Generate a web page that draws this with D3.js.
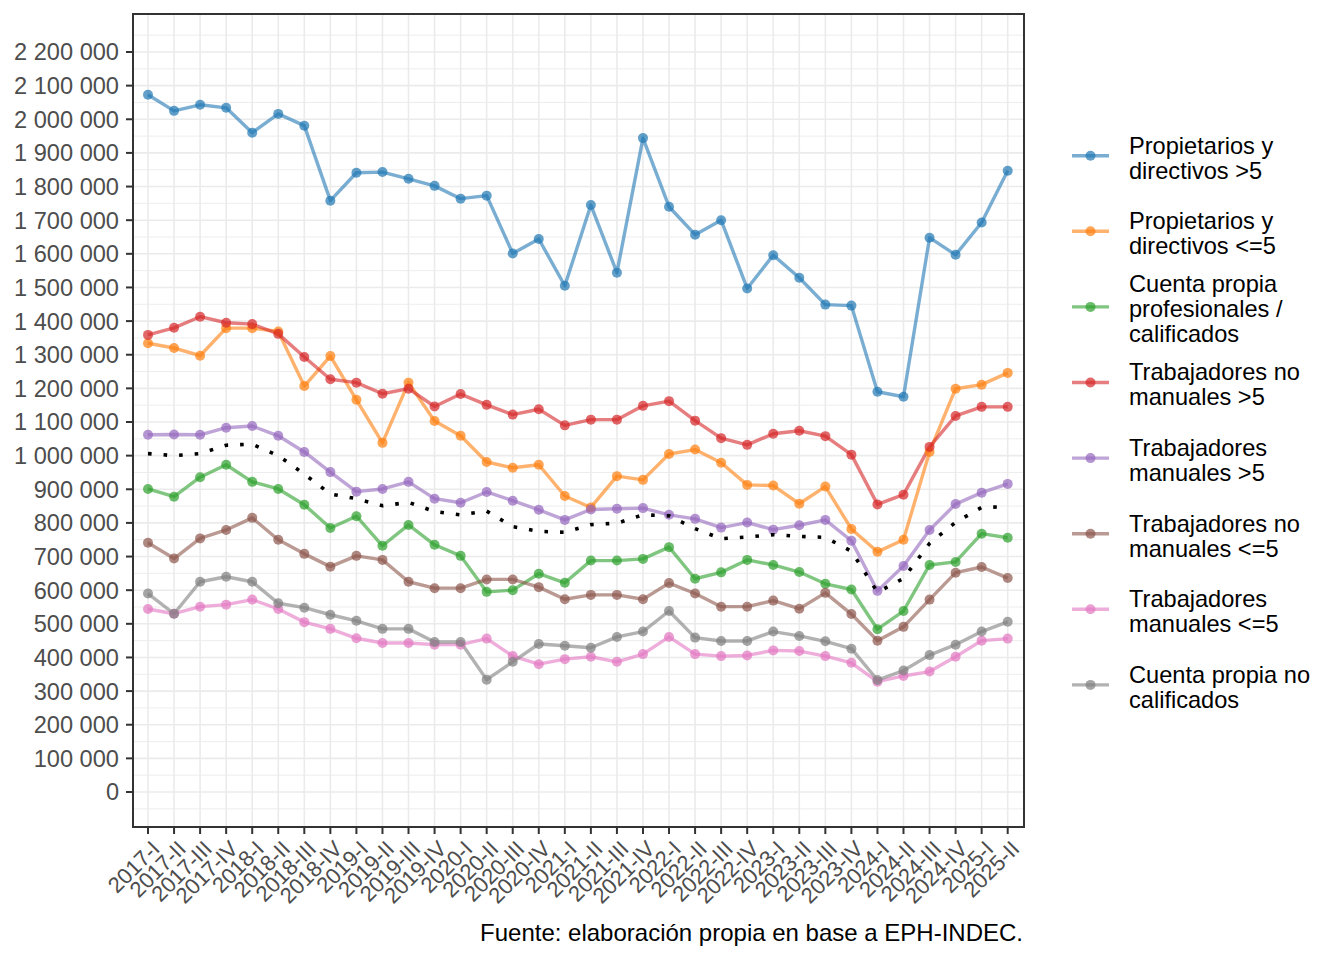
<!DOCTYPE html>
<html>
<head>
<meta charset="utf-8">
<style>
  body { margin: 0; background: #fff; }
  svg text { font-family: "Liberation Sans", Arial, sans-serif; }
</style>
<script src="https://cdn.jsdelivr.net/npm/d3@7"></script>
</head>
<body>
<svg id="chart" width="1344" height="960"></svg>
<script>
// trimestres
var quarters = ["2017-I","2017-II","2017-III","2017-IV","2018-I","2018-II","2018-III","2018-IV",
  "2019-I","2019-II","2019-III","2019-IV","2020-I","2020-II","2020-III","2020-IV",
  "2021-I","2021-II","2021-III","2021-IV","2022-I","2022-II","2022-III","2022-IV",
  "2023-I","2023-II","2023-III","2023-IV","2024-I","2024-II","2024-III","2024-IV",
  "2025-I","2025-II"];

var propDir5 = [2073000,2025000,2043000,2034000,1960000,2016000,1981000,1758000,
  1841000,1843000,1823000,1802000,1764000,1773000,1601000,1644000,
  1505000,1745000,1544000,1944000,1740000,1657000,1700000,1497000,
  1596000,1529000,1449000,1446000,1190000,1175000,1648000,1597000,
  1693000,1847000];
var propDirLe5 = [1334000,1320000,1297000,1379000,1379000,1369000,1207000,1296000,
  1166000,1038000,1217000,1103000,1059000,981000,964000,973000,
  880000,846000,939000,928000,1005000,1018000,979000,913000,
  911000,857000,908000,782000,714000,750000,1011000,1199000,
  1211000,1246000];
var cpProf = [901000,878000,936000,973000,922000,901000,854000,785000,
  820000,732000,794000,735000,702000,595000,600000,649000,
  622000,688000,688000,693000,728000,634000,653000,690000,
  675000,654000,619000,602000,484000,538000,675000,684000,
  768000,756000];
var noManuales5 = [1359000,1380000,1413000,1395000,1391000,1362000,1293000,1227000,
  1217000,1184000,1199000,1146000,1183000,1151000,1122000,1138000,
  1090000,1107000,1107000,1148000,1162000,1104000,1052000,1032000,
  1065000,1074000,1058000,1003000,855000,884000,1026000,1118000,
  1145000,1145000];
var manuales5 = [1062000,1063000,1062000,1083000,1088000,1059000,1011000,951000,
  893000,901000,922000,872000,860000,892000,866000,839000,
  809000,840000,842000,844000,824000,812000,786000,801000,
  780000,793000,809000,747000,598000,672000,779000,856000,
  890000,916000];
var noManualesLe5 = [741000,694000,754000,779000,815000,750000,708000,670000,
  702000,690000,625000,606000,606000,632000,632000,609000,
  573000,586000,586000,573000,621000,590000,551000,551000,
  569000,545000,592000,529000,450000,491000,572000,652000,
  669000,636000];
var manualesLe5 = [544000,530000,551000,557000,572000,544000,505000,485000,
  457000,443000,443000,438000,438000,456000,404000,380000,
  395000,402000,387000,410000,461000,410000,404000,406000,
  421000,419000,404000,384000,328000,345000,358000,402000,
  450000,456000];
var cpNoCalif = [590000,530000,625000,640000,625000,561000,548000,527000,
  509000,485000,485000,446000,446000,334000,387000,440000,
  435000,429000,461000,477000,538000,459000,449000,449000,
  477000,464000,448000,426000,333000,361000,407000,438000,
  477000,506000];
// linea punteada (sin leyenda)
var promedio = [1006000,1000000,1006000,1031000,1034000,1000000,945000,886000,
  872000,851000,861000,834000,824000,835000,789000,775000,
  772000,795000,799000,824000,821000,783000,753000,758000,
  765000,760000,757000,716000,594000,635000,739000,802000,
  846000,848000];

var seriesNames = [
  ["Propietarios y", "directivos >5"],
  ["Propietarios y", "directivos <=5"],
  ["Cuenta propia", "profesionales /", "calificados"],
  ["Trabajadores no", "manuales >5"],
  ["Trabajadores", "manuales >5"],
  ["Trabajadores no", "manuales <=5"],
  ["Trabajadores", "manuales <=5"],
  ["Cuenta propia no", "calificados"]
];
var seriesValues = [propDir5, propDirLe5, cpProf, noManuales5, manuales5, noManualesLe5, manualesLe5, cpNoCalif];
var colors = ["#1f77b4","#ff7f0e","#2ca02c","#d62728","#9467bd","#8c564b","#e377c2","#7f7f7f"];
var yTicks = d3.range(0, 2200001, 100000);

var svg = d3.select("#chart");
var panel = {left: 133, right: 1024, top: 14, bottom: 827};

var x = d3.scalePoint().domain(quarters).range([148, 1007.7]);
var y = d3.scaleLinear().domain([0, 2200000]).range([792, 52]);

var fmt = d3.formatLocale({decimal: ",", thousands: " ", grouping: [3], currency: ["$", ""]}).format(",d");

// fondo y grilla
svg.append("rect").attr("x", panel.left).attr("y", panel.top)
  .attr("width", panel.right - panel.left).attr("height", panel.bottom - panel.top)
  .attr("fill", "#fff");

var grid = svg.append("g");
var minor = d3.range(-100000, 2350001, 50000).filter(function(d){ return d % 100000 !== 0; })
  .filter(function(d){ return y(d) > panel.top && y(d) < panel.bottom; });
grid.selectAll("line.minor").data(minor).enter().append("line")
  .attr("x1", panel.left).attr("x2", panel.right)
  .attr("y1", function(d){ return y(d); }).attr("y2", function(d){ return y(d); })
  .attr("stroke", "#ebebeb").attr("stroke-width", 0.9);
grid.selectAll("line.majy").data(yTicks).enter().append("line")
  .attr("x1", panel.left).attr("x2", panel.right)
  .attr("y1", function(d){ return y(d); }).attr("y2", function(d){ return y(d); })
  .attr("stroke", "#ebebeb").attr("stroke-width", 1.6);
grid.selectAll("line.majx").data(quarters).enter().append("line")
  .attr("y1", panel.top).attr("y2", panel.bottom)
  .attr("x1", function(d){ return x(d); }).attr("x2", function(d){ return x(d); })
  .attr("stroke", "#ebebeb").attr("stroke-width", 1.6);

// lineas
var line = d3.line().x(function(d, i){ return x(quarters[i]); }).y(function(d){ return y(d); });

var gLines = svg.append("g");
seriesValues.forEach(function(vals, k){
  gLines.append("path").datum(vals).attr("d", line)
    .attr("fill", "none").attr("stroke", colors[k])
    .attr("stroke-opacity", 0.6).attr("stroke-width", 3.4)
    .attr("stroke-linejoin", "round");
});
var gPts = svg.append("g");
seriesValues.forEach(function(vals, k){
  gPts.selectAll("circle.s" + k).data(vals).enter().append("circle")
    .attr("cx", function(d, i){ return x(quarters[i]); })
    .attr("cy", function(d){ return y(d); })
    .attr("r", 5).attr("fill", colors[k]).attr("fill-opacity", 0.7);
});
svg.append("path").datum(promedio).attr("d", line)
  .attr("fill", "none").attr("stroke", "#000").attr("stroke-width", 3.6)
  .attr("stroke-dasharray", "3.6 12");

// borde
svg.append("rect").attr("x", panel.left).attr("y", panel.top)
  .attr("width", panel.right - panel.left).attr("height", panel.bottom - panel.top)
  .attr("fill", "none").attr("stroke", "#333").attr("stroke-width", 2);

// eje y
var gy = svg.append("g");
gy.selectAll("line").data(yTicks).enter().append("line")
  .attr("x1", 126).attr("x2", panel.left)
  .attr("y1", function(d){ return y(d); }).attr("y2", function(d){ return y(d); })
  .attr("stroke", "#333").attr("stroke-width", 2);
gy.selectAll("text").data(yTicks).enter().append("text")
  .attr("x", 119).attr("y", function(d){ return y(d); }).attr("dy", "0.36em")
  .attr("text-anchor", "end").attr("font-size", 23.6).attr("fill", "#4d4d4d")
  .text(function(d){ return fmt(d); });

// eje x
var gx = svg.append("g");
gx.selectAll("line").data(quarters).enter().append("line")
  .attr("x1", function(d){ return x(d); }).attr("x2", function(d){ return x(d); })
  .attr("y1", panel.bottom).attr("y2", 834)
  .attr("stroke", "#333").attr("stroke-width", 2);
gx.selectAll("text").data(quarters).enter().append("text")
  .attr("transform", function(d){ return "translate(" + (x(d) + 2) + ",839) rotate(-45)"; })
  .attr("dy", "0.72em").attr("text-anchor", "end")
  .attr("font-size", 22).attr("fill", "#4d4d4d")
  .text(function(d){ return d; });

// leyenda
var gLeg = svg.append("g");
seriesNames.forEach(function(lines, k){
  var cy = 155.7 + k * 75.6;
  gLeg.append("line").attr("x1", 1072).attr("x2", 1109).attr("y1", cy).attr("y2", cy)
    .attr("stroke", colors[k]).attr("stroke-opacity", 0.6).attr("stroke-width", 3.4);
  gLeg.append("circle").attr("cx", 1090.5).attr("cy", cy).attr("r", 5)
    .attr("fill", colors[k]).attr("fill-opacity", 0.7);
  var lh = 25;
  var top = cy + 2 - (lines.length - 1) * lh / 2;
  lines.forEach(function(t, j){
    gLeg.append("text").attr("x", 1129).attr("y", top + j * lh).attr("dy", "0.36em")
      .attr("font-size", 23.6).attr("fill", "#000").text(t);
  });
});

// fuente
svg.append("text").attr("x", 1023).attr("y", 941).attr("text-anchor", "end")
  .attr("font-size", 24).attr("fill", "#000")
  .text("Fuente: elaboración propia en base a EPH-INDEC.");
</script>
</body>
</html>
